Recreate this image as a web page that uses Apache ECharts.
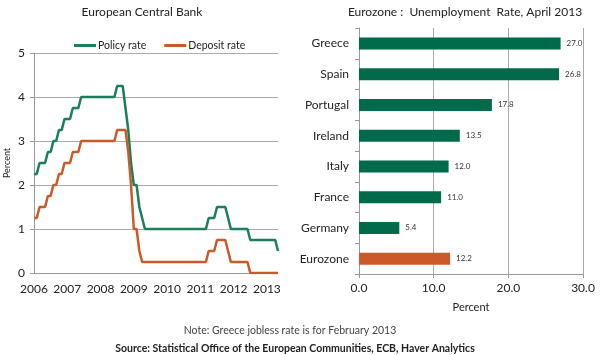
<!DOCTYPE html>
<html><head><meta charset="utf-8">
<script src="https://cdn.jsdelivr.net/npm/echarts@6/dist/echarts.min.js"></script>
<style>html,body{margin:0;padding:0;background:#fff}#c{width:600px;height:355px}</style>
</head><body><div id="c"></div>
<script>
// Monthly, Jan 2006 .. May 2013
const months = [];
for (let y = 2006; y <= 2013; y++) for (let m = 1; m <= 12; m++) { if (y === 2013 && m > 5) break; months.push(y + '-' + (m < 10 ? '0' + m : m)); }
const policyRate = [
  2.25,2.25,2.50,2.50,2.50,2.75,2.75,3.00,3.00,3.25,3.25,3.50,
  3.50,3.50,3.75,3.75,3.75,4.00,4.00,4.00,4.00,4.00,4.00,4.00,
  4.00,4.00,4.00,4.00,4.00,4.00,4.25,4.25,4.25,3.75,3.25,2.50,
  2.00,2.00,1.50,1.25,1.00,1.00,1.00,1.00,1.00,1.00,1.00,1.00,
  1.00,1.00,1.00,1.00,1.00,1.00,1.00,1.00,1.00,1.00,1.00,1.00,
  1.00,1.00,1.00,1.25,1.25,1.25,1.50,1.50,1.50,1.50,1.25,1.00,
  1.00,1.00,1.00,1.00,1.00,1.00,0.75,0.75,0.75,0.75,0.75,0.75,
  0.75,0.75,0.75,0.75,0.50
];
const depositRate = [
  1.25,1.25,1.50,1.50,1.50,1.75,1.75,2.00,2.00,2.25,2.25,2.50,
  2.50,2.50,2.75,2.75,2.75,3.00,3.00,3.00,3.00,3.00,3.00,3.00,
  3.00,3.00,3.00,3.00,3.00,3.00,3.25,3.25,3.25,3.25,2.75,2.00,
  1.00,1.00,0.50,0.25,0.25,0.25,0.25,0.25,0.25,0.25,0.25,0.25,
  0.25,0.25,0.25,0.25,0.25,0.25,0.25,0.25,0.25,0.25,0.25,0.25,
  0.25,0.25,0.25,0.50,0.50,0.50,0.75,0.75,0.75,0.75,0.50,0.25,
  0.25,0.25,0.25,0.25,0.25,0.25,0.00,0.00,0.00,0.00,0.00,0.00,
  0.00,0.00,0.00,0.00,0.00
];
const countries = ['Greece','Spain','Portugal','Ireland','Italy','France','Germany','Eurozone'];
const unemployment = [27.0, 26.8, 17.8, 13.5, 12.0, 11.0, 5.4, 12.2];
const rateTicks = [0,1,2,3,4,5];

const GREEN = '#1A7F5A', BAR_GREEN = '#006B4A', ORANGE = '#CB5A2A';
const FONT = 'Lato';
const chart = echarts.init(document.getElementById('c'), null, {renderer: 'canvas'});
chart.setOption({
  animation: false,
  textStyle: {fontFamily: FONT},
  title: [
    {text: 'European Central Bank', left: 137, top: 1, textAlign: 'center', textStyle: {fontSize: 12, fontWeight: 'normal', color: '#222', fontFamily: FONT}},
    {text: 'Eurozone :  Unemployment  Rate, April 2013', left: 460, top: 1, textAlign: 'center', textStyle: {fontSize: 12, fontWeight: 'normal', color: '#222', fontFamily: FONT}},
    {text: 'Note: Greece jobless rate is for February 2013', left: 285, top: 320, textAlign: 'center', textStyle: {fontSize: 10.5, fontWeight: 'normal', color: '#444', fontFamily: FONT}},
    {text: 'Source: Statistical Office of the European Communities, ECB, Haver Analytics', left: 290, top: 338, textAlign: 'center', textStyle: {fontSize: 10.5, fontWeight: 'bold', color: '#222', fontFamily: FONT}}
  ],
  legend: {
    left: 69, top: 35, itemWidth: 22, itemHeight: 3, itemGap: 18,
    icon: 'rect',
    textStyle: {fontSize: 10.5, color: '#222', fontFamily: FONT, padding: [0, 0, 0, -3]},
    data: ['Policy rate', 'Deposit rate']
  },
  grid: [
    {left: 34, right: 322, top: 53, bottom: 82},
    {left: 359, right: 17, top: 28, bottom: 81}
  ],
  xAxis: [
    {gridIndex: 0, type: 'category', data: months, boundaryGap: false,
     axisLine: {lineStyle: {color: '#999'}}, axisTick: {show: false},
     axisLabel: {interval: 0, formatter: v => v.slice(5) === '01' ? v.slice(0,4) : '', fontSize: 12, color: '#222', margin: 10, fontFamily: FONT, hideOverlap: false}},
    {gridIndex: 1, type: 'value', min: 0, max: 30, interval: 10,
     name: 'Percent', nameLocation: 'middle', nameGap: 28, nameTextStyle: {fontSize: 11, color: '#222', fontFamily: FONT},
     axisLine: {show: true, lineStyle: {color: '#999'}}, axisTick: {show: true, length: 4, lineStyle: {color: '#999'}},
     splitLine: {show: true, lineStyle: {color: '#aaa'}},
     axisLabel: {formatter: v => v.toFixed(1), fontSize: 12, color: '#222', margin: 8, fontFamily: FONT}}
  ],
  yAxis: [
    {gridIndex: 0, type: 'value', min: 0, max: 5, interval: 1,
     name: 'Percent', nameLocation: 'middle', nameGap: 22, nameRotate: 90, nameTextStyle: {fontSize: 9, color: '#222', fontFamily: FONT},
     axisLine: {show: true, lineStyle: {color: '#999'}}, axisTick: {show: true, inside: false, length: 4, lineStyle: {color: '#999'}},
     splitLine: {lineStyle: {color: '#aaa'}},
     axisLabel: {fontSize: 12, color: '#222', margin: 9, fontFamily: FONT, formatter: v => rateTicks.includes(v) ? String(v) : ''}},
    {gridIndex: 1, type: 'category', data: countries, inverse: true,
     axisLine: {show: true, lineStyle: {color: '#999'}}, axisTick: {show: true, length: 4, lineStyle: {color: '#999'}},
     splitLine: {show: false},
     axisLabel: {fontSize: 12, color: '#222', margin: 10, fontFamily: FONT}}
  ],
  series: [
    {name: 'Policy rate', type: 'line', xAxisIndex: 0, yAxisIndex: 0, data: policyRate, showSymbol: false, symbol: 'none',
     lineStyle: {color: GREEN, width: 2.5}, itemStyle: {color: GREEN}},
    {name: 'Deposit rate', type: 'line', xAxisIndex: 0, yAxisIndex: 0, data: depositRate, showSymbol: false, symbol: 'none',
     lineStyle: {color: ORANGE, width: 2.5}, itemStyle: {color: ORANGE}},
    {name: 'Unemployment', type: 'bar', xAxisIndex: 1, yAxisIndex: 1, barWidth: 12,
     data: unemployment.map((v, i) => ({value: v, itemStyle: {color: countries[i] === 'Eurozone' ? ORANGE : BAR_GREEN}})),
     label: {show: true, position: 'right', distance: 6, fontSize: 8, color: '#333', fontFamily: FONT, formatter: p => p.value.toFixed(1)}}
  ]
});
</script></body></html>
